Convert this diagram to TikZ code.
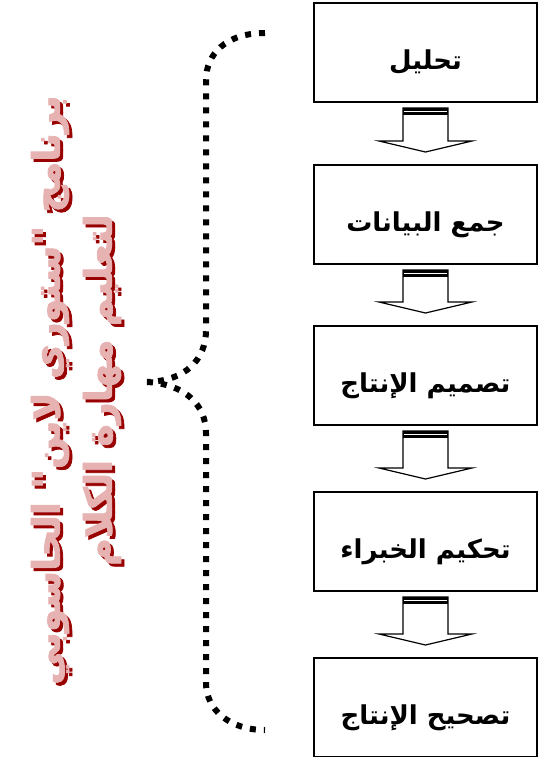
\documentclass[tikz,border=0pt]{standalone}
\usepackage{fontspec}
\newfontfamily\arabicfont[Script=Arabic]{DejaVu Sans}
\newfontfamily\titlefont[Script=Arabic, UprightFont={* Bold}, FakeBold=2]{DejaVu Sans}
\TeXXeTstate=1
\usetikzlibrary{calc,positioning}

\definecolor{wordpink}{RGB}{230,178,178}
\definecolor{wordshadow}{RGB}{153,0,0}

\begin{document}
\begin{tikzpicture}[x=0.5pt, y=-0.5pt,
    stepbox/.style={draw, line width=1pt, minimum width=111.5pt, minimum height=49.5pt, inner sep=0pt,
        font=\arabicfont\bfseries\fontsize{13}{16}\selectfont, text height=20pt, text depth=3.5pt},
    blockarrow/.style={draw, line width=0.6pt, fill=white},
    dotbrace/.style={line width=3pt, dash pattern=on 3pt off 4pt},
    wordart/.style={rotate=90, align=center, font=\titlefont\fontsize{19}{26}\selectfont}]

    % Define variables
    \def\bx{425.5} % centre of the steps
    \def\sw{22.5} % half width of an arrow shaft
    \def\hw{46.5} % half width of an arrow head

    \useasboundingbox (0,0) rectangle (540,757);

    % Draw steps
    \node[stepbox] (analyse) at (\bx,52.5) {\beginR تحليل\endR};
    \node[stepbox] (collect) at (\bx,214.5) {\beginR جمع البيانات\endR};
    \node[stepbox] (design) at (\bx,375.5) {\beginR تصميم الإنتاج\endR};
    \node[stepbox] (review) at (\bx,541.5) {\beginR تحكيم الخبراء\endR};
    \node[stepbox] (revise) at (\bx,707.5) {\beginR تصحيح الإنتاج\endR};

    % Draw block arrows
    \foreach \a/\b in {analyse/collect, collect/design, design/review, review/revise} {
        \draw[blockarrow] ($(\a.south)+(-\sw,5)$) -- ($(\b.north)+(-\sw,-23)$) -- ($(\b.north)+(-\hw,-23)$)
            -- ($(\b.north)+(0,-12)$) -- ($(\b.north)+(\hw,-23)$) -- ($(\b.north)+(\sw,-23)$)
            -- ($(\a.south)+(\sw,5)$) -- cycle;
        \fill ($(\a.south)+(-\sw,5)$) rectangle ($(\a.south)+(\sw,12)$);
        \draw[white, line width=0.5pt] ($(\a.south)+(-\sw+1,8.5)$) -- ($(\a.south)+(\sw-1,8.5)$);
    }

    % Draw dotted brace
    \draw[dotbrace] (265,33) .. controls (225,33) and (206,55) .. (206,80) -- (206,330)
        .. controls (206,360) and (185,381) .. (147,382);
    \draw[dotbrace] (147,382) .. controls (185,384) and (206,405) .. (206,433) -- (206,683)
        .. controls (206,710) and (230,730) .. (265,730);

    % Title with shadow
    \node[wordart, text=wordshadow] (titleshadow) at (79,393)
        {\beginR برنامج "ستوري لاين" الحاسوبي\endR\\ \beginR لتعليم مهارة الكلام\endR};
    \node[wordart, text=wordpink] (title) at (76,390)
        {\beginR برنامج "ستوري لاين" الحاسوبي\endR\\ \beginR لتعليم مهارة الكلام\endR};
\end{tikzpicture}
\end{document}
